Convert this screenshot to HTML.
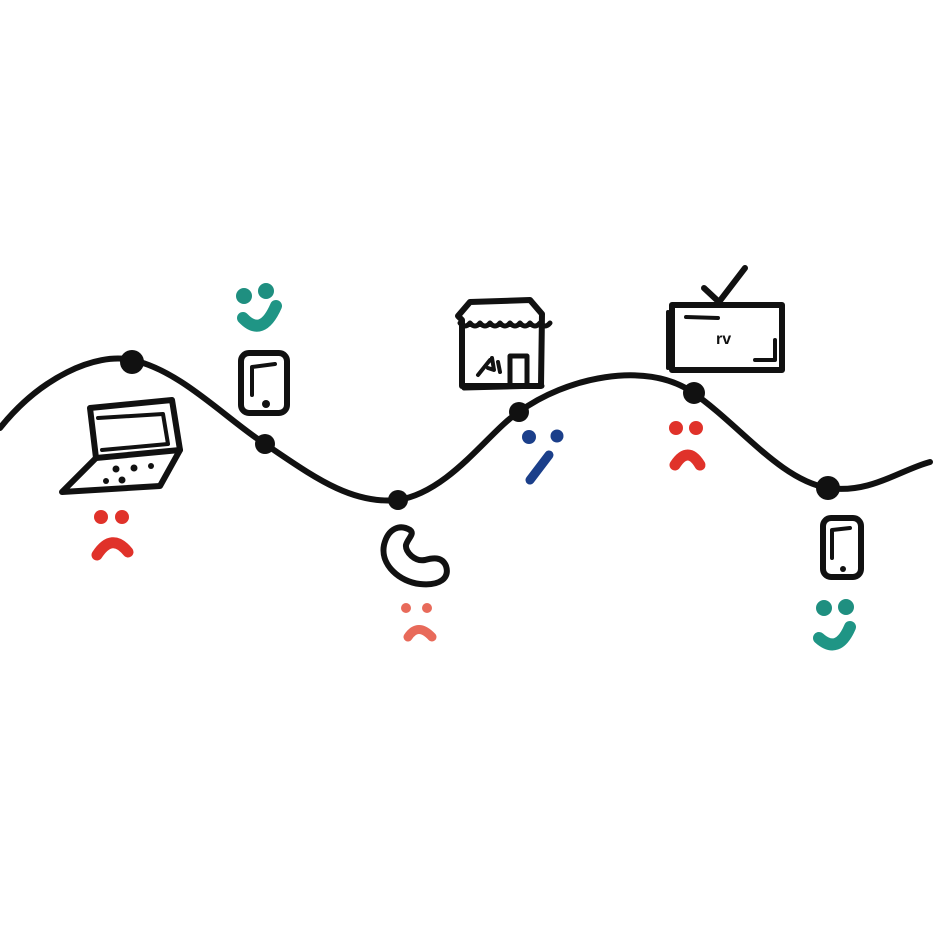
<!DOCTYPE html>
<html><head><meta charset="utf-8"><style>
html,body{margin:0;padding:0;background:#fff;}
</style></head><body>
<svg width="935" height="935" viewBox="0 0 935 935" xmlns="http://www.w3.org/2000/svg">
<rect width="935" height="935" fill="#fff"/>
<g fill="none" stroke="#111" stroke-linecap="round" stroke-linejoin="round">
<path d="M0,428 C40,378 95,352 132,360 C180,370 225,418 265,444 C310,474 350,505 398,500 C450,492 490,430 519,412 C565,378 645,360 692,392 C740,425 780,480 828,488 C870,494 900,470 930,462" stroke-width="6"/>
<path d="M90,408 L172,400 L180,450 L96,458 Z" stroke-width="6"/>
<path d="M98,418 L163,414 L168,444 L102,450" stroke-width="4"/>
<path d="M96,458 L62,492 L160,486 L180,450" stroke-width="6"/>
<rect x="241" y="353" width="46" height="60" rx="8" stroke-width="6"/>
<path d="M252,395 L252,367 L275,364" stroke-width="4"/>
<path d="M410,530 C400,524 388,528 384,545 C380,565 400,582 420,584 C440,586 450,578 446,566 C442,556 432,558 425,560 C415,562 405,552 406,545 C408,538 415,534 410,530 Z" stroke-width="6"/>
<path d="M462,386 L462,320 L458,316 L470,302 L530,300 L542,314 L541,386 Z" stroke-width="6"/>
<path d="M460,323 q5,6 10,0 q5,6 10,0 q5,6 10,0 q5,6 10,0 q5,6 10,0 q5,6 10,0 q5,6 10,0 q5,6 10,0 q5,6 10,0" stroke-width="5"/>
<path d="M510,383 L510,356 L527,356 L527,383" stroke-width="5"/>
<path d="M478,375 L490,360 M488,368 L494,370 L492,358 M498,362 L500,372" stroke-width="4"/>
<path d="M464,388 L542,386" stroke-width="5"/>
<rect x="672" y="305" width="110" height="65" stroke-width="6"/>
<path d="M668,312 L668,368" stroke-width="4"/>
<path d="M686,317 L718,318" stroke-width="4"/>
<path d="M775,340 L775,360 L755,360" stroke-width="4"/>
<path d="M704,288 L719,302 L745,268" stroke-width="6"/>
<rect x="823" y="518" width="38" height="59" rx="8" stroke-width="6"/>
<path d="M832,558 L832,530 L850,528" stroke-width="4"/>
</g>
<text x="716" y="344" font-family="Liberation Sans, sans-serif" font-size="16" font-weight="bold" fill="#111">rv</text>
<g fill="#111">
<circle cx="132" cy="362" r="12"/>
<circle cx="265" cy="444" r="10"/>
<circle cx="398" cy="500" r="10"/>
<circle cx="519" cy="412" r="10"/>
<circle cx="694" cy="393" r="11"/>
<circle cx="828" cy="488" r="12"/>
<circle cx="266" cy="404" r="4"/>
<circle cx="843" cy="569" r="3"/>
<circle cx="116" cy="469" r="3.5"/><circle cx="134" cy="468" r="3.5"/><circle cx="151" cy="466" r="3"/>
<circle cx="106" cy="481" r="3"/><circle cx="122" cy="480" r="3.5"/>
</g>
<g fill="#e0322a">
<circle cx="101" cy="517" r="7"/><circle cx="122" cy="517" r="7"/>
<circle cx="676" cy="428" r="7"/><circle cx="696" cy="428" r="7"/>
</g>
<g fill="#e86a5a">
<circle cx="406" cy="608" r="5"/><circle cx="427" cy="608" r="5"/>
</g>
<g fill="none" stroke-linecap="round">
<path d="M97,555 Q112,532 128,552" stroke="#e0322a" stroke-width="11"/>
<path d="M675,465 Q688,445 700,465" stroke="#e0322a" stroke-width="11"/>
<path d="M408,637 Q418,622 432,637" stroke="#e86a5a" stroke-width="9"/>
</g>
<g fill="#1f8f80">
<circle cx="244" cy="296" r="8"/><circle cx="266" cy="291" r="8"/>
<circle cx="824" cy="608" r="8"/><circle cx="846" cy="607" r="8"/>
</g>
<g fill="none" stroke="#1f9585" stroke-linecap="round" stroke-width="12">
<path d="M243,318 Q262,338 276,306"/>
<path d="M819,638 Q838,655 850,627"/>
</g>
<g fill="#1b3f8a">
<circle cx="529" cy="437" r="7"/><circle cx="557" cy="436" r="6.5"/>
</g>
<path d="M549,455 L530,480" stroke="#1b3f8a" stroke-width="9" stroke-linecap="round"/>
</svg>
</body></html>
